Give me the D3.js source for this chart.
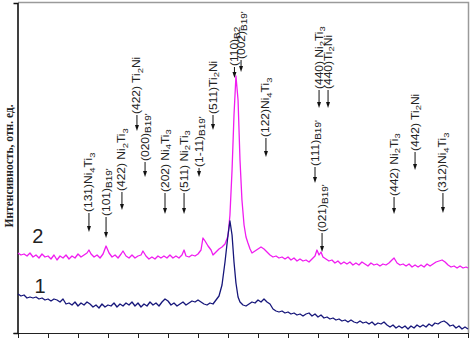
<!DOCTYPE html>
<html>
<head>
<meta charset="utf-8">
<script src="https://cdn.jsdelivr.net/npm/d3@7/dist/d3.min.js"></script>
<style>
  html, body { margin: 0; padding: 0; background: #fff; }
  svg { display: block; }
</style>
</head>
<body>
<div id="chart"></div>
<script>
// XRD patterns, 2θ (deg) vs intensity (arb. units)
const X_TICKS = [30, 32, 34, 36, 38, 40, 42, 44, 46, 48, 50, 52, 54, 56, 58, 60]

// curve 1 (navy)
const PATTERN_1 = [
  [30.0, 39], [30.2, 37], [30.4, 38], [30.6, 35], [30.8, 36], [31.0, 35], [31.2, 36], [31.4, 34],
  [31.6, 35], [31.8, 33], [32.0, 34], [32.2, 32], [32.4, 34], [32.6, 33], [32.8, 31], [33.0, 34],
  [33.2, 29], [33.4, 30], [33.6, 28], [33.8, 31], [34.0, 27], [34.2, 30], [34.4, 28], [34.6, 31],
  [34.8, 29], [35.0, 26], [35.2, 28], [35.4, 25], [35.6, 29], [35.8, 26], [36.0, 28], [36.2, 27],
  [36.4, 30], [36.6, 26], [36.8, 29], [37.0, 27], [37.2, 30], [37.4, 28], [37.6, 31], [37.8, 27],
  [38.0, 30], [38.2, 26], [38.4, 29], [38.6, 27], [38.8, 31], [39.0, 28], [39.2, 30], [39.4, 27],
  [39.6, 31], [39.8, 34], [40.0, 32], [40.2, 28], [40.4, 30], [40.6, 27], [40.8, 29], [41.0, 31],
  [41.2, 28], [41.4, 30], [41.6, 32], [41.8, 31], [42.0, 33], [42.2, 31], [42.4, 29], [42.6, 28],
  [42.8, 30], [43.0, 29], [43.2, 33], [43.4, 37], [43.6, 48], [43.8, 71], [44.0, 98], [44.13, 112],
  [44.27, 98], [44.4, 71], [44.53, 50], [44.67, 36], [44.8, 31], [45.0, 28], [45.2, 27], [45.4, 29],
  [45.6, 31], [45.8, 30], [46.0, 33], [46.2, 31], [46.4, 34], [46.6, 31], [46.8, 29], [47.0, 24],
  [47.2, 22], [47.4, 21], [47.6, 22], [47.8, 20], [48.0, 21], [48.2, 19], [48.4, 20], [48.6, 18],
  [48.8, 19], [49.0, 17], [49.2, 19], [49.4, 20], [49.6, 17], [49.8, 19], [50.0, 16], [50.2, 18],
  [50.4, 15], [50.6, 16], [50.8, 14], [51.0, 15], [51.2, 13], [51.4, 14], [51.6, 12], [51.8, 13],
  [52.0, 11], [52.2, 13], [52.4, 11], [52.6, 10], [52.8, 12], [53.0, 10], [53.2, 11], [53.4, 9],
  [53.6, 11], [53.8, 8], [54.0, 10], [54.2, 9], [54.4, 11], [54.6, 8], [54.8, 6], [55.0, 8],
  [55.2, 5], [55.4, 7], [55.6, 5], [55.8, 7], [56.0, 4], [56.2, 7], [56.4, 5], [56.6, 8],
  [56.8, 6], [57.0, 8], [57.2, 6], [57.4, 9], [57.6, 7], [57.8, 10], [58.0, 9], [58.2, 11],
  [58.4, 12], [58.6, 10], [58.8, 7], [59.0, 8], [59.2, 5], [59.4, 7], [59.6, 4], [59.8, 6],
  [60.0, 4]
]

// curve 2 (magenta)
const PATTERN_2 = [
  [30.0, 80], [30.2, 78], [30.4, 79], [30.6, 77], [30.8, 80], [31.0, 76], [31.2, 78], [31.4, 75],
  [31.6, 79], [31.8, 76], [32.0, 77], [32.2, 74], [32.4, 78], [32.6, 73], [32.8, 77], [33.0, 75],
  [33.2, 78], [33.4, 74], [33.6, 77], [33.8, 75], [34.0, 79], [34.2, 76], [34.4, 78], [34.6, 80],
  [34.73, 83], [34.87, 79], [35.07, 76], [35.27, 78], [35.47, 75], [35.67, 79], [35.87, 87], [36.07, 80],
  [36.27, 76], [36.47, 78], [36.67, 75], [36.87, 79], [37.0, 82], [37.2, 77], [37.4, 75], [37.6, 78],
  [37.8, 75], [38.0, 77], [38.2, 78], [38.33, 82], [38.53, 77], [38.73, 74], [38.93, 76], [39.13, 74],
  [39.33, 77], [39.53, 75], [39.73, 77], [39.93, 75], [40.13, 78], [40.33, 75], [40.53, 77], [40.73, 75],
  [40.93, 78], [41.07, 83], [41.2, 77], [41.4, 76], [41.6, 78], [41.8, 77], [42.0, 79], [42.2, 83],
  [42.33, 95], [42.47, 92], [42.67, 87], [42.87, 83], [43.0, 78], [43.2, 81], [43.4, 84], [43.6, 86],
  [43.8, 89], [44.0, 97], [44.13, 118], [44.27, 163], [44.4, 218], [44.53, 257], [44.67, 233], [44.8, 173],
  [44.93, 133], [45.07, 108], [45.2, 96], [45.33, 90], [45.47, 84], [45.6, 80], [45.8, 82], [46.0, 84],
  [46.2, 86], [46.4, 84], [46.6, 81], [46.8, 78], [47.0, 76], [47.2, 77], [47.4, 75], [47.6, 76],
  [47.8, 74], [48.0, 76], [48.2, 73], [48.4, 75], [48.6, 72], [48.8, 74], [49.0, 72], [49.2, 73],
  [49.4, 71], [49.6, 74], [49.8, 77], [49.93, 83], [50.07, 78], [50.2, 81], [50.33, 76], [50.53, 74],
  [50.73, 72], [50.93, 73], [51.13, 70], [51.33, 72], [51.53, 69], [51.73, 71], [51.93, 69], [52.13, 71],
  [52.33, 68], [52.53, 70], [52.73, 68], [52.93, 71], [53.13, 69], [53.33, 67], [53.53, 70], [53.73, 68],
  [53.93, 69], [54.13, 67], [54.33, 69], [54.53, 68], [54.73, 70], [54.93, 73], [55.07, 75], [55.27, 70],
  [55.47, 68], [55.67, 69], [55.87, 67], [56.07, 69], [56.27, 66], [56.47, 68], [56.67, 66], [56.87, 68],
  [57.07, 66], [57.27, 69], [57.47, 67], [57.67, 69], [57.87, 71], [58.07, 72], [58.27, 73], [58.47, 71],
  [58.67, 68], [58.87, 66], [59.07, 67], [59.27, 65], [59.47, 67], [59.67, 65], [59.87, 66], [60.0, 65]
]

// reflection markers: {n} = subscript, [..] = small lowered phase index
const PEAK_NAMES = [
  '(131)Ni{4}Ti{3}', "(101)[B19']", '(422) Ni{2}Ti{3}', "(020)[B19']", '(422) Ti{2}Ni',
  '(202) Ni{4}Ti{3}', '(511) Ni{2}Ti{3}', "(1-11)[B19']", '(511)Ti{2}Ni', '(110)[B2]',
  "(002)[B19']", '(122)Ni{4}Ti{3}', "(111)[B19']", "(021)[B19']", '(440) Ni{2}Ti{3}',
  '(440)Ti{2}Ni', '(442) Ni{2}Ti{3}', '(442) Ti{2}Ni', '(312)Ni{4}Ti{3}'
]
const PEAK_2THETA = [34.73, 35.87, 36.93, 38.47, 37.93, 39.8, 41.07, 42.07, 43.0, 44.43,
  44.87, 46.53, 49.8, 50.27, 50.07, 50.67, 55.07, 56.47, 58.33]
// arrow tip and arrow tail (where the label starts), intensity units
const ARROW_TIP = [101, 95, 123, 156, 202, 119, 119, 156, 203, 255,
  261, 176, 150, 81, 225, 225, 119, 163, 120]
const ARROW_TAIL = [120, 116, 141, 171, 218, 140, 140, 165, 218, 266,
  273, 195, 166, 100, 243, 243, 136, 181, 140]

const CURVE_NAMES = ['1', '2']
const CURVE_NAME_POS = [[31.1, 40], [30.95, 90]]

const Y_TITLE = 'Интенсивность, отн. ед.'

const W = 472, H = 339
const margin = { top: 3, right: 4, bottom: 6, left: 18 }
const FONT = '"Liberation Sans", Arial, sans-serif'

const svg = d3.select('#chart').append('svg')
  .attr('width', W).attr('height', H)

const x = d3.scaleLinear().domain([30, 60]).range([margin.left, W - margin.right])
const y = d3.scaleLinear().domain([0, 330]).range([H - margin.bottom, margin.top])

// frame: grey top / right, black left
svg.append('path')
  .attr('d', `M${margin.left},${margin.top - 0.5}H${W - margin.right + 0.5}V${H - margin.bottom}`)
  .attr('fill', 'none').attr('stroke', '#9a9a9a').attr('stroke-width', 1.5)

svg.append('g')
  .attr('transform', `translate(0,${H - margin.bottom})`)
  .call(d3.axisBottom(x).tickValues(X_TICKS).tickSize(5).tickFormat(''))
  .call(g => {
    g.select('.domain').attr('stroke', '#222')
    g.selectAll('.tick line').attr('stroke', '#222')
  })

svg.append('g')
  .attr('transform', `translate(${margin.left - 0.5},0)`)
  .call(d3.axisLeft(y).tickValues([0]).tickSize(4).tickFormat(''))
  .call(g => {
    g.select('.domain').attr('stroke', '#111').attr('stroke-width', 1.6)
    g.selectAll('.tick line').attr('stroke', '#111')
  })

// y title
svg.append('text')
  .attr('transform', `translate(12.5,${(y(256) + y(78)) / 2}) rotate(-90)`)
  .attr('text-anchor', 'middle')
  .attr('font-family', '"Liberation Serif", "Times New Roman", serif')
  .attr('font-weight', 'bold').attr('font-size', '11.5px').attr('fill', '#222')
  .text(Y_TITLE)

// curves
const line = d3.line().x(d => x(d[0])).y(d => y(d[1]))
svg.append('path').datum(PATTERN_2)
  .attr('d', line).attr('fill', 'none')
  .attr('stroke', '#f01cf0').attr('stroke-width', 1.3).attr('stroke-linejoin', 'round')
svg.append('path').datum(PATTERN_1)
  .attr('d', line).attr('fill', 'none')
  .attr('stroke', '#16167a').attr('stroke-width', 1.3).attr('stroke-linejoin', 'round')

// curve numbers
CURVE_NAMES.forEach((name, i) => {
  svg.append('text')
    .attr('x', x(CURVE_NAME_POS[i][0])).attr('y', y(CURVE_NAME_POS[i][1]))
    .attr('font-family', FONT).attr('font-size', '20px').attr('fill', '#222')
    .text(name)
})

function splitLabel(str) {
  const parts = []
  const re = /\{([^}]*)\}|\[([^\]]*)\]|([^{\[]+)/g
  let m
  while ((m = re.exec(str))) {
    if (m[1] !== undefined) parts.push({ t: m[1], kind: 'sub' })
    else if (m[2] !== undefined) parts.push({ t: m[2], kind: 'small' })
    else parts.push({ t: m[3], kind: 'norm' })
  }
  return parts
}

PEAK_NAMES.forEach((name, i) => {
  const ax = x(PEAK_2THETA[i])
  const tip = y(ARROW_TIP[i])
  const tail = y(ARROW_TAIL[i])
  const g = svg.append('g')
  g.append('line')
    .attr('x1', ax).attr('x2', ax)
    .attr('y1', tail).attr('y2', tip - 4)
    .attr('stroke', '#111').attr('stroke-width', 1)
  g.append('path')
    .attr('d', `M${ax - 2},${tip - 6}L${ax + 2},${tip - 6}L${ax},${tip}Z`)
    .attr('fill', '#111')

  // glyphs are a bit squeezed across the column in the original
  const t = g.append('text')
    .attr('transform', `translate(${ax + 3.5},${tail - 1}) rotate(-90) scale(1,0.85)`)
    .attr('font-family', FONT).attr('font-size', '12px').attr('fill', '#222')
  let shift = 0
  splitLabel(name).forEach(p => {
    const target = p.kind === 'norm' ? 0 : 2.5
    t.append('tspan')
      .attr('dy', target - shift)
      .attr('font-size', p.kind === 'norm' ? null : (p.kind === 'sub' ? '9.5px' : '10px'))
      .text(p.t)
    shift = target
  })
})
</script>
</body>
</html>
